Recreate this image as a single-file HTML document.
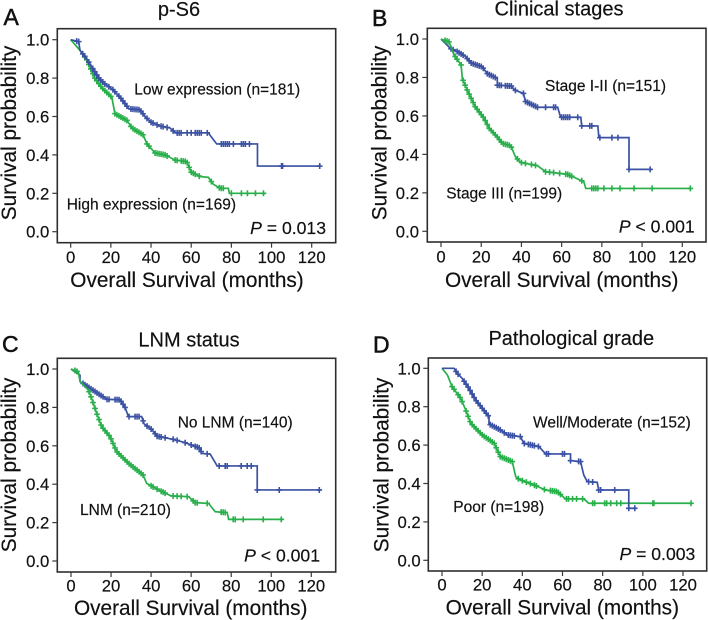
<!DOCTYPE html>
<html>
<head>
<meta charset="utf-8">
<title>Kaplan-Meier survival curves</title>
<style>
html,body{margin:0;padding:0;background:#fff;width:708px;height:620px;overflow:hidden}
svg{display:block;font-family:"Liberation Sans",Arial,sans-serif;fill:#111;filter:blur(0.35px)}
text{stroke:#111;stroke-width:0.18px}
.letter{font-size:23px;stroke-width:0.5px}
.title{font-size:20px;text-anchor:middle}
.axt{font-size:20.8px;text-anchor:middle}
.tick{font-size:16.7px}
.ann{font-size:15.5px}
.p{font-size:17.6px;text-anchor:end}
</style>
</head>
<body>
<svg id="figure" width="708" height="620" viewBox="0 0 708 620" xmlns="http://www.w3.org/2000/svg">
  <g id="panel-a">
    <text class="letter" x="3.5" y="25">A</text>
    <text class="title" x="179" y="16">p-S6</text>
    <text class="axt" x="187" y="287">Overall Survival (months)</text>
    <text class="axt" transform="translate(16,133) rotate(-90)">Survival probability</text>
    <text class="ann" x="134.3" y="94.5">Low expression (n=181)</text>
    <text class="ann" x="66.7" y="209.5">High expression (n=169)</text>
    <text class="p" x="326" y="234"><tspan font-style="italic">P</tspan> = 0.013</text>
  </g>
  <g id="panel-b">
    <text class="letter" x="372" y="26">B</text>
    <text class="title" x="559" y="15.5">Clinical stages</text>
    <text class="axt" x="561.7" y="287">Overall Survival (months)</text>
    <text class="axt" transform="translate(386.7,133) rotate(-90)">Survival probability</text>
    <text class="ann" x="545" y="91">Stage I-II (n=151)</text>
    <text class="ann" x="446.3" y="198.3">Stage III (n=199)</text>
    <text class="p" x="694.7" y="232.7"><tspan font-style="italic">P</tspan> &lt; 0.001</text>
  </g>
  <g id="panel-c">
    <text class="letter" x="2" y="352">C</text>
    <text class="title" x="189" y="346.7">LNM status</text>
    <text class="axt" x="190.7" y="615">Overall Survival (months)</text>
    <text class="axt" transform="translate(16,465) rotate(-90)">Survival probability</text>
    <text class="ann" x="177.7" y="427.7">No LNM (n=140)</text>
    <text class="ann" x="80" y="515">LNM (n=210)</text>
    <text class="p" x="320" y="561.7"><tspan font-style="italic">P</tspan> &lt; 0.001</text>
  </g>
  <g id="panel-d">
    <text class="letter" x="373" y="352.7">D</text>
    <text class="title" x="571.3" y="345">Pathological grade</text>
    <text class="axt" x="562.3" y="614.3">Overall Survival (months)</text>
    <text class="axt" transform="translate(388.3,465) rotate(-90)">Survival probability</text>
    <text class="ann" x="533" y="427.3">Well/Moderate (n=152)</text>
    <text class="ann" x="453.3" y="512">Poor (n=198)</text>
    <text class="p" x="695.3" y="560"><tspan font-style="italic">P</tspan> = 0.003</text>
  </g>
</svg>
<script>
var xTicks = [0, 20, 40, 60, 80, 100, 120];
var yTicks = [0.0, 0.2, 0.4, 0.6, 0.8, 1.0];
var yTickLabels = ['0.0', '0.2', '0.4', '0.6', '0.8', '1.0'];

var aLowTime = [0, 4, 4.6, 8, 11, 14, 17, 21, 25, 29, 34.5, 37, 40, 44.5, 49.5, 52, 68.5, 71, 72.7, 93, 93, 124];
var aLowSurv = [1, 0.99, 0.945, 0.9, 0.85, 0.8, 0.77, 0.74, 0.695, 0.64, 0.635, 0.6, 0.57, 0.55, 0.54, 0.515, 0.515, 0.48, 0.457, 0.457, 0.342, 0.342];
var aLowCensor = [3, 4, 6, 7, 9, 11, 12, 13, 14, 15, 16, 17, 19, 21, 22, 24, 25, 26, 27, 28, 30, 31, 32, 33, 34, 35, 36, 38, 40, 41, 43, 45, 46, 48, 51, 53, 54, 55, 58, 60, 62, 63, 64, 65, 68, 75, 76, 77, 78, 79, 81, 85, 86, 87, 89, 105, 105.5, 124];
var aHighTime = [0, 4.6, 8, 10.5, 12, 15.5, 20.5, 22, 28, 30.5, 36, 38, 42, 47, 52, 57.8, 60, 64.5, 68.5, 71, 74.5, 78.5, 79, 97];
var aHighSurv = [1, 0.945, 0.895, 0.835, 0.8, 0.75, 0.7, 0.615, 0.58, 0.54, 0.505, 0.457, 0.41, 0.4, 0.373, 0.365, 0.31, 0.287, 0.283, 0.247, 0.226, 0.226, 0.2, 0.2];
var aHighCensor = [7, 8, 9, 10, 11, 12, 13, 14, 15, 16, 17, 18, 19, 20, 22, 23, 24, 25, 26, 27, 28, 30, 31, 32, 33, 34, 35, 36, 38, 39, 42, 43, 44, 45, 46, 47, 48, 52, 53, 55, 56, 57, 58, 59, 60, 61, 62, 64, 70, 74, 75, 76, 80, 85, 88, 92, 96];

var bEarlyTime = [0, 4.8, 8, 12, 15, 20.5, 23, 28, 28, 35, 36.5, 41, 42, 48, 58, 59.5, 69.5, 70, 78, 78.5, 93.5, 93.5, 105];
var bEarlySurv = [1, 0.95, 0.935, 0.91, 0.875, 0.855, 0.82, 0.795, 0.76, 0.755, 0.735, 0.717, 0.675, 0.645, 0.645, 0.593, 0.593, 0.548, 0.548, 0.487, 0.487, 0.322, 0.322];
var bEarlyCensor = [5, 6, 8, 9, 10, 11, 13, 14, 15, 16, 17, 18, 19, 20, 21, 23, 24, 25, 26, 27, 28, 29, 30, 32, 33, 34, 35, 37, 41, 42, 43, 44, 45, 46, 47, 48, 52, 56, 57, 60, 61, 62, 63, 64, 68, 70, 74, 75, 79, 85, 88, 93.5, 104];
var bLateTime = [0, 4, 6.5, 10, 10.6, 13, 17, 21.4, 24, 28, 30.5, 34.7, 37, 39.6, 48, 52, 63, 71, 72, 124];
var bLateSurv = [1, 0.985, 0.917, 0.865, 0.795, 0.735, 0.648, 0.588, 0.535, 0.49, 0.457, 0.445, 0.388, 0.358, 0.341, 0.31, 0.296, 0.258, 0.223, 0.223];
var bLateCensor = [2, 3, 4, 7, 8, 10, 11, 12, 13, 14, 15, 16, 17, 18, 19, 20, 21, 22, 23, 24, 25, 26, 27, 28, 29, 30, 31, 32, 33, 34, 35, 38, 40, 42, 45, 47, 52, 54, 56, 59, 62, 63, 64, 65, 70, 75, 76, 77, 78, 81, 85, 89, 96, 105, 124];

var cNoTime = [0, 4.5, 4.5, 9.5, 14.5, 18, 24.5, 27, 28.7, 35.3, 36.5, 40.3, 43, 51, 57, 64.5, 65.3, 69.5, 73, 93, 93, 124.5];
var cNoSurv = [1, 0.968, 0.935, 0.9, 0.865, 0.842, 0.84, 0.8, 0.752, 0.752, 0.714, 0.685, 0.65, 0.634, 0.616, 0.587, 0.56, 0.557, 0.495, 0.495, 0.37, 0.37];
var cNoCensor = [6, 7, 8, 9, 10, 11, 12, 13, 14, 15, 16, 18, 19, 22, 23, 24, 25, 26, 27, 29, 32, 33, 34, 36, 38, 40, 42, 43, 44, 45, 47, 51, 53, 57, 60, 62, 63, 64, 65, 68, 74, 77, 78, 85, 88, 90, 93, 104, 124];
var cYesTime = [0, 3.7, 4.5, 8.7, 10.3, 12.8, 15.3, 19.5, 22.8, 28.7, 36, 37.8, 44.5, 50, 58.7, 62, 68.7, 72, 78, 78.7, 106];
var cYesSurv = [1, 0.985, 0.935, 0.89, 0.847, 0.77, 0.7, 0.648, 0.57, 0.509, 0.448, 0.404, 0.366, 0.339, 0.335, 0.304, 0.3, 0.257, 0.252, 0.217, 0.217];
var cYesCensor = [2, 3, 9, 10, 11, 12, 13, 14, 15, 16, 17, 18, 19, 20, 21, 22, 23, 24, 25, 26, 27, 28, 29, 30, 31, 32, 33, 34, 35, 36, 40, 41, 43, 45, 46, 47, 51, 53, 55, 58, 61, 62, 63, 68, 75, 76, 77, 81, 82, 86, 96, 105];

var dWellTime = [0, 6, 7.6, 10, 13.4, 16.7, 20, 23.4, 23.4, 29, 32.5, 39, 40.8, 48.3, 51.6, 64, 64, 69, 70.6, 72.3, 77.3, 78, 93, 93, 96.3];
var dWellSurv = [1, 1, 0.974, 0.948, 0.896, 0.835, 0.792, 0.748, 0.71, 0.679, 0.653, 0.644, 0.609, 0.592, 0.554, 0.554, 0.519, 0.514, 0.444, 0.41, 0.406, 0.366, 0.366, 0.271, 0.271];
var dWellCensor = [7, 8, 11, 12, 13, 14, 15, 16, 17, 18, 19, 20, 21, 22, 23, 24, 25, 26, 27, 28, 29, 31, 33, 34, 35, 36, 39, 41, 43, 44, 45, 46, 48, 52, 53, 60, 61, 64, 68, 69, 73, 75, 78, 79, 86, 93, 96];
var dPoorTime = [0, 2.7, 5, 9.3, 11.8, 14.3, 20, 26, 29, 35, 36.7, 38.3, 46.6, 51.6, 57.4, 61.5, 70.6, 73, 124];
var dPoorSurv = [1, 0.965, 0.905, 0.844, 0.783, 0.714, 0.653, 0.609, 0.54, 0.514, 0.436, 0.422, 0.389, 0.366, 0.358, 0.32, 0.32, 0.297, 0.297];
var dPoorCensor = [5, 6, 8, 9, 10, 12, 13, 14, 15, 16, 17, 18, 19, 20, 21, 22, 23, 24, 25, 26, 27, 28, 29, 30, 31, 32, 33, 34, 35, 38, 40, 42, 44, 46, 47, 51, 54, 55, 56, 57, 58, 59, 62, 63, 65, 67, 70, 75, 76, 81, 82, 84, 87, 89, 105, 105.5, 124];

var NS = 'http://www.w3.org/2000/svg';
var BLUE = '#3a51a4';
var GREEN = '#27b04a';

function make(parent, tag, attrs) {
  var el = document.createElementNS(NS, tag);
  for (var k in attrs) el.setAttribute(k, attrs[k]);
  parent.appendChild(el);
  return el;
}

function survivalAt(times, survs, t) {
  var i = 0;
  while (i < times.length - 1 && times[i + 1] <= t) i++;
  if (i >= times.length - 1) return survs[survs.length - 1];
  var span = times[i + 1] - times[i];
  if (span <= 0) return survs[i + 1];
  return survs[i] + (survs[i + 1] - survs[i]) * (t - times[i]) / span;
}

function drawSeries(group, prefix, name, times, survs, censors, color, sx, sy) {
  var d = '';
  for (var i = 0; i < times.length; i++) {
    d += (i ? 'L' : 'M') + sx(times[i]).toFixed(2) + ' ' + sy(survs[i]).toFixed(2);
  }
  var line = make(group, 'path', { d: d, fill: 'none', stroke: color, 'stroke-width': 1.7 });
  
  
  var marksD = '';
  for (var j = 0; j < censors.length; j++) {
    var cx = sx(censors[j]);
    var cy = sy(survivalAt(times, survs, censors[j]));
    marksD += 'M' + (cx - 2.8).toFixed(2) + ' ' + cy.toFixed(2) + 'h5.6';
    marksD += 'M' + cx.toFixed(2) + ' ' + (cy - 3).toFixed(2) + 'v6';
  }
  var marks = make(group, 'path', { d: marksD, fill: 'none', stroke: color, 'stroke-width': 1.6 });
  
  
}

function drawPanel(cfg) {
  var group = document.getElementById(cfg.id);
  var sx = function (t) { return cfg.x0 + t * (cfg.x120 - cfg.x0) / 120; };
  var sy = function (s) { return cfg.y0 + s * (cfg.y1 - cfg.y0); };

  var frame = make(group, 'rect', {
    x: cfg.left, y: cfg.top, width: cfg.right - cfg.left, height: cfg.bottom - cfg.top,
    fill: 'none', stroke: '#2e2e2e', 'stroke-width': 1.6
  });
  
  

  xTicks.forEach(function (v) {
    var tickMark = make(group, 'line', {
      x1: sx(v), x2: sx(v), y1: cfg.bottom, y2: cfg.bottom + 5, stroke: '#3a3a3a', 'stroke-width': 1.2
    });
    
    
    var label = make(group, 'text', {
      'class': 'tick', x: sx(v), y: cfg.xTickBase, 'text-anchor': 'middle'
    });
    label.textContent = String(v);
    
    
  });

  yTicks.forEach(function (v, i) {
    var tickMark = make(group, 'line', {
      x1: cfg.left - 5, x2: cfg.left, y1: sy(v), y2: sy(v), stroke: '#3a3a3a', 'stroke-width': 1.2
    });
    
    
    var label = make(group, 'text', {
      'class': 'tick', x: cfg.yTickRight, y: sy(v) + 6, 'text-anchor': 'end'
    });
    label.textContent = yTickLabels[i];
    
    
  });

  cfg.series.forEach(function (s) {
    drawSeries(group, cfg.id, s.name, s.times, s.survs, s.censors, s.color, sx, sy);
  });
}

drawPanel({
  id: 'panel-a', left: 57.3, right: 335.7, top: 28.7, bottom: 242.7,
  x0: 70.7, x120: 311.7, y1: 39.7, y0: 231.7, xTickBase: 263, yTickRight: 49.3,
  series: [
    { name: 'high-expression', times: aHighTime, survs: aHighSurv, censors: aHighCensor, color: GREEN },
    { name: 'low-expression', times: aLowTime, survs: aLowSurv, censors: aLowCensor, color: BLUE }
  ]
});
drawPanel({
  id: 'panel-b', left: 427.3, right: 706, top: 28.3, bottom: 242,
  x0: 441, x120: 682.3, y1: 39, y0: 231.3, xTickBase: 262.6, yTickRight: 419,
  series: [
    { name: 'stage-i-ii', times: bEarlyTime, survs: bEarlySurv, censors: bEarlyCensor, color: BLUE },
    { name: 'stage-iii', times: bLateTime, survs: bLateSurv, censors: bLateCensor, color: GREEN }
  ]
});
drawPanel({
  id: 'panel-c', left: 57.3, right: 335.7, top: 358.3, bottom: 572,
  x0: 71, x120: 311.3, y1: 369, y0: 561, xTickBase: 591.7, yTickRight: 49.3,
  series: [
    { name: 'no-lnm', times: cNoTime, survs: cNoSurv, censors: cNoCensor, color: BLUE },
    { name: 'lnm', times: cYesTime, survs: cYesSurv, censors: cYesCensor, color: GREEN }
  ]
});
drawPanel({
  id: 'panel-d', left: 428.3, right: 706.7, top: 358, bottom: 571,
  x0: 442, x120: 683, y1: 368.3, y0: 560.3, xTickBase: 590.7, yTickRight: 420.7,
  series: [
    { name: 'poor', times: dPoorTime, survs: dPoorSurv, censors: dPoorCensor, color: GREEN },
    { name: 'well-moderate', times: dWellTime, survs: dWellSurv, censors: dWellCensor, color: BLUE }
  ]
});
</script>
</body>
</html>
